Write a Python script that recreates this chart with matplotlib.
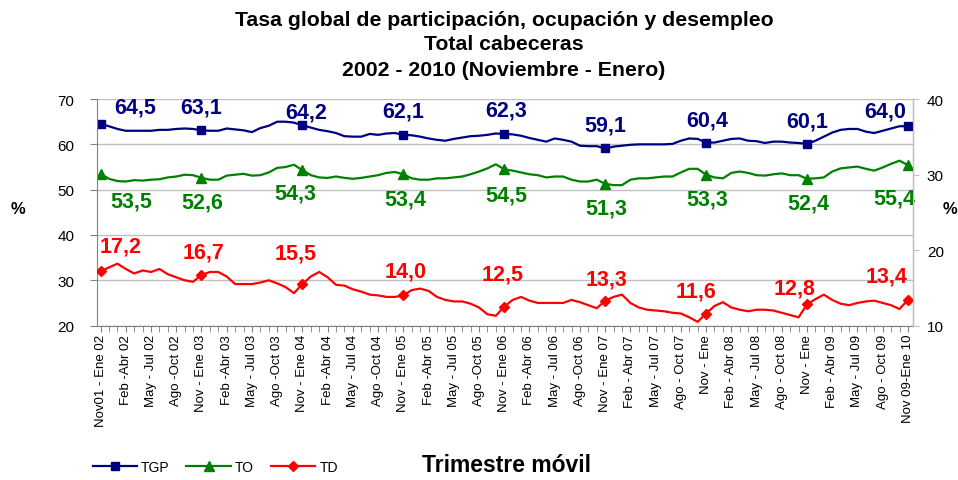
import matplotlib
matplotlib.use("Agg")
import matplotlib.pyplot as plt
import numpy as np

plt.rcParams["font.family"] = ["Liberation Sans", "DejaVu Sans"]

# ── Data (moving trimester, Nov01-Ene02 .. Nov09-Ene10) ──
tgp = [64.5, 64.0, 63.4, 63.0, 63.0, 63.0, 63.0, 63.2, 63.2, 63.4, 63.5, 63.4,
       63.1, 63.0, 63.0, 63.5, 63.3, 63.1, 62.7, 63.6, 64.1, 65.0, 65.0, 64.8,
       64.2, 63.7, 63.2, 62.9, 62.5, 61.8, 61.7, 61.7, 62.3, 62.1, 62.4, 62.5,
       62.1, 62.0, 61.7, 61.3, 61.0, 60.8, 61.2, 61.5, 61.8, 61.9, 62.1, 62.4,
       62.3, 62.2, 61.9, 61.4, 61.0, 60.6, 61.3, 61.0, 60.6, 59.7, 59.6, 59.6,
       59.1, 59.5, 59.7, 59.9, 60.0, 60.0, 60.0, 60.0, 60.1, 60.8, 61.3, 61.2,
       60.4, 60.4, 60.8, 61.2, 61.3, 60.8, 60.7, 60.3, 60.6, 60.6, 60.4, 60.3,
       60.1, 60.8, 61.7, 62.6, 63.2, 63.4, 63.4, 62.8, 62.5, 63.0, 63.5, 64.0,
       64.0]
to = [53.5, 52.4, 51.9, 51.8, 52.1, 52.0, 52.2, 52.3, 52.7, 52.9, 53.3, 53.2,
      52.6, 52.2, 52.2, 53.1, 53.3, 53.5, 53.1, 53.2, 53.8, 54.8, 55.0, 55.5,
      54.3, 53.2, 52.7, 52.6, 52.9, 52.6, 52.4, 52.6, 52.9, 53.2, 53.7, 53.9,
      53.4, 52.5, 52.2, 52.2, 52.5, 52.5, 52.7, 52.9, 53.4, 54.0, 54.7, 55.6,
      54.5, 54.2, 53.8, 53.4, 53.2, 52.7, 52.9, 52.9, 52.2, 51.8, 51.8, 52.2,
      51.3, 51.0, 51.0, 52.2, 52.5, 52.5, 52.7, 52.9, 52.9, 53.8, 54.6, 54.6,
      53.3, 52.7, 52.5, 53.7, 54.0, 53.7, 53.2, 53.1, 53.4, 53.6, 53.2, 53.2,
      52.4, 52.5, 52.7, 54.0, 54.7, 54.9, 55.1, 54.6, 54.2, 54.9, 55.7, 56.4,
      55.4]
td = [17.2, 17.7, 18.2, 17.5, 16.9, 17.3, 17.1, 17.5, 16.8, 16.4, 16.0, 15.8,
      16.7, 17.1, 17.1, 16.5, 15.5, 15.5, 15.5, 15.7, 16.0, 15.6, 15.1, 14.3,
      15.5, 16.5, 17.1, 16.4, 15.4, 15.3, 14.8, 14.5, 14.1, 14.0, 13.8, 13.8,
      14.0, 14.7, 14.9, 14.6, 13.8, 13.4, 13.2, 13.2, 12.9, 12.4, 11.5, 11.3,
      12.5, 13.4, 13.8, 13.3, 13.0, 13.0, 13.0, 13.0, 13.4, 13.1, 12.7, 12.3,
      13.3, 13.8, 14.1, 13.0, 12.4, 12.1, 12.0, 11.9, 11.7, 11.6, 11.1, 10.5,
      11.6, 12.6, 13.1, 12.4, 12.1, 11.9, 12.1, 12.1, 12.0, 11.7, 11.4, 11.1,
      12.8, 13.5, 14.1, 13.4, 12.9, 12.7, 13.0, 13.2, 13.3, 13.0, 12.7, 12.2,
      13.4]
tick_labels = [
    "Nov01 - Ene 02", "Feb -Abr 02", "May - Jul 02", "Ago -Oct 02",
    "Nov - Ene 03", "Feb -Abr 03", "May - Jul 03", "Ago -Oct 03",
    "Nov - Ene 04", "Feb -Abr 04", "May - Jul 04", "Ago -Oct 04",
    "Nov - Ene 05", "Feb -Abr 05", "May - Jul 05", "Ago -Oct 05",
    "Nov - Ene 06", "Feb -Abr 06", "May - Jul 06", "Ago -Oct 06",
    "Nov - Ene 07", "Feb - Abr 07", "May - Jul 07", "Ago - Oct 07",
    "Nov - Ene", "Feb - Abr 08", "May - Jul 08", "Ago - Oct 08",
    "Nov - Ene", "Feb - Abr 09", "May - Jul 09", "Ago - Oct 09",
    "Nov 09-Ene 10",
]

# label offsets in pixels (dx, dy) relative to the yearly markers
tgp_off = [(35, 17), (0, 23), (4, 13), (0, 24), (2, 24), (0, 23), (1, 23), (0, 23), (-23, 15)]
to_off = [(31, -27), (1, -24), (-7, -23), (2, -25), (2, -26), (1, -24), (1, -24), (1, -24), (-14, -33)]
td_off = [(20, 25), (2, 23), (-7, 31), (2, 24), (-2, 33), (1, 22), (-10, 23), (-12, 16), (-21, 24)]

x = np.arange(len(tgp))
c_tgp, c_to, c_td = "#000080", "#008000", "#FF0000"

# ── Figure ──
fig = plt.figure(figsize=(9.58, 4.81), dpi=100)
ax = fig.add_axes([0.101, 0.321, 0.852, 0.471])
ax2 = ax.twinx()

l1, = ax.plot(x, tgp, "-s", color=c_tgp, lw=1.6, ms=5.5, markevery=12, label="TGP")
l2, = ax.plot(x, to, "-^", color=c_to, lw=1.6, ms=6.5, markevery=12, label="TO")
l3, = ax2.plot(x, td, "-D", color=c_td, lw=1.6, ms=5, markevery=12, label="TD")

def fmt(v):
    return f"{v:.1f}".replace(".", ",")

for k, i in enumerate(range(0, len(x), 12)):
    ax.annotate(fmt(tgp[i]), (i, tgp[i]), xytext=tgp_off[k], textcoords="offset pixels",
                ha="center", va="center", fontsize=15.5, fontweight="bold", color=c_tgp)
    ax.annotate(fmt(to[i]), (i, to[i]), xytext=to_off[k], textcoords="offset pixels",
                ha="center", va="center", fontsize=15.5, fontweight="bold", color=c_to)
    ax2.annotate(fmt(td[i]), (i, td[i]), xytext=td_off[k], textcoords="offset pixels",
                 ha="center", va="center", fontsize=15.5, fontweight="bold", color=c_td)

# ── Axes ──
ax.set_xlim(-0.45, 96.6)
ax.set_ylim(20, 70)
ax2.set_ylim(10, 40)
ax.set_yticks(range(20, 71, 10))
ax2.set_yticks(range(10, 41, 10))
ax.set_xticks(x[::3])
ax.set_xticklabels(tick_labels, rotation=90, fontsize=9.5)
ax.set_xticks(x, minor=True)
ax.grid(axis="y", color="#c0c0c0", lw=1)
ax.set_axisbelow(True)

for a in (ax, ax2):
    a.spines["top"].set_visible(False)
ax.spines["left"].set_color("#808080")
ax.spines["bottom"].set_color("#808080")
ax2.spines["left"].set_visible(False)
ax2.spines["bottom"].set_visible(False)
ax2.spines["right"].set_color("#c0c0c0")

ax.tick_params(axis="y", labelsize=11, length=5, color="#808080", pad=11)
ax.tick_params(axis="x", which="both", length=4, color="#808080", pad=2)
ax2.tick_params(axis="y", labelsize=11, length=4, color="#c0c0c0", pad=6)

# ── Text ──
fig.text(0.526, 1 - 20 / 481, "Tasa global de participación, ocupación y desempleo",
         ha="center", va="center", fontsize=15.3, fontweight="bold")
fig.text(0.526, 1 - 44 / 481, "Total cabeceras",
         ha="center", va="center", fontsize=15.3, fontweight="bold")
fig.text(0.526, 1 - 71 / 481, "2002 - 2010 (Noviembre - Enero)",
         ha="center", va="center", fontsize=15.3, fontweight="bold")
fig.text(18 / 958, 1 - 210 / 481, "%", ha="center", va="center", fontsize=12, fontweight="bold")
fig.text(950 / 958, 1 - 210 / 481, "%", ha="center", va="center", fontsize=12, fontweight="bold")
fig.text(506 / 958, 1 - 466 / 481, "Trimestre móvil", ha="center", va="center",
         fontsize=16.5, fontweight="bold")

fig.legend(handles=[l1, l2, l3], loc="center left", bbox_to_anchor=(80 / 958, 1 - 468 / 481),
           ncol=3, frameon=False, fontsize=10, handlelength=3.2, handletextpad=0.3,
           columnspacing=1.2)

plt.savefig("out.png", dpi=100)
